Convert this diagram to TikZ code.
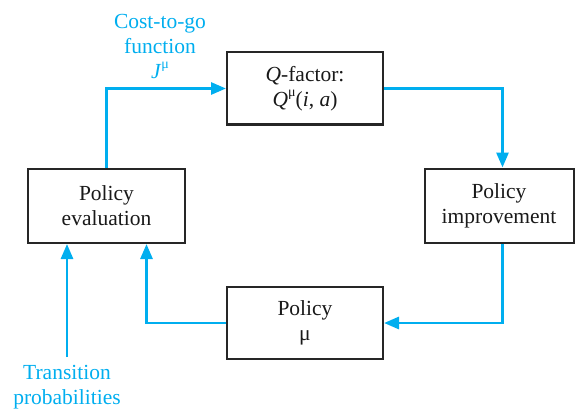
\documentclass[tikz,border=0pt]{standalone}
\usepackage{fontspec}
\setmainfont{Liberation Serif}
\usetikzlibrary{arrows.meta,calc}
\definecolor{flowc}{HTML}{00AEEF}
\newcommand{\supmu}{\raisebox{0.45em}{\fontsize{14}{14}\selectfont μ}}
\begin{document}
\begin{tikzpicture}[x=1pt,y=-1pt,
  box/.style={draw=black!85,line width=2pt,fill=white,inner sep=0pt,align=center,
    font=\fontsize{21.5}{25}\selectfont,text=black!90},
  flow/.style={draw=flowc,line width=2.8pt,-{Triangle[length=15pt,width=12pt]}},
  lab/.style={text=flowc,align=center,font=\fontsize{21.5}{25}\selectfont,inner sep=0pt}]
\useasboundingbox (0,0) rectangle (575,409);
\node[box,minimum width=157pt,minimum height=74pt] (eval) at (106.5,206) {Policy\\evaluation};
\node[box,minimum width=156pt,minimum height=72pt] (q) at (305,88.5) {\textit{Q}-factor:\\\textit{Q}\supmu(\textit{i}, \textit{a})};
\node[box,minimum width=149pt,minimum height=74pt] (imp) at (499,205.5) {Policy\\improvement};
\node[box,minimum width=156pt,minimum height=72pt] (mu) at (305,323) {Policy\\μ};
\node[lab] (cost) at (160,46) {Cost-to-go\\function\\\textit{J}\supmu};
\node[lab,anchor=north] (trans) at (67,365) {Transition\\probabilities};
\coordinate (ret) at ([xshift=40pt]eval.south);
\draw[flow] (eval.north) |- (q.west);
\draw[flow] (q.east) -| ([xshift=3.5pt]imp.north);
\draw[flow] ([xshift=3.5pt]imp.south) |- (mu.east);
\draw[flow] (mu.west) -| (ret);
\draw[flow] ([yshift=8pt]trans.north) -- (trans.north |- eval.south);
\end{tikzpicture}
\end{document}
